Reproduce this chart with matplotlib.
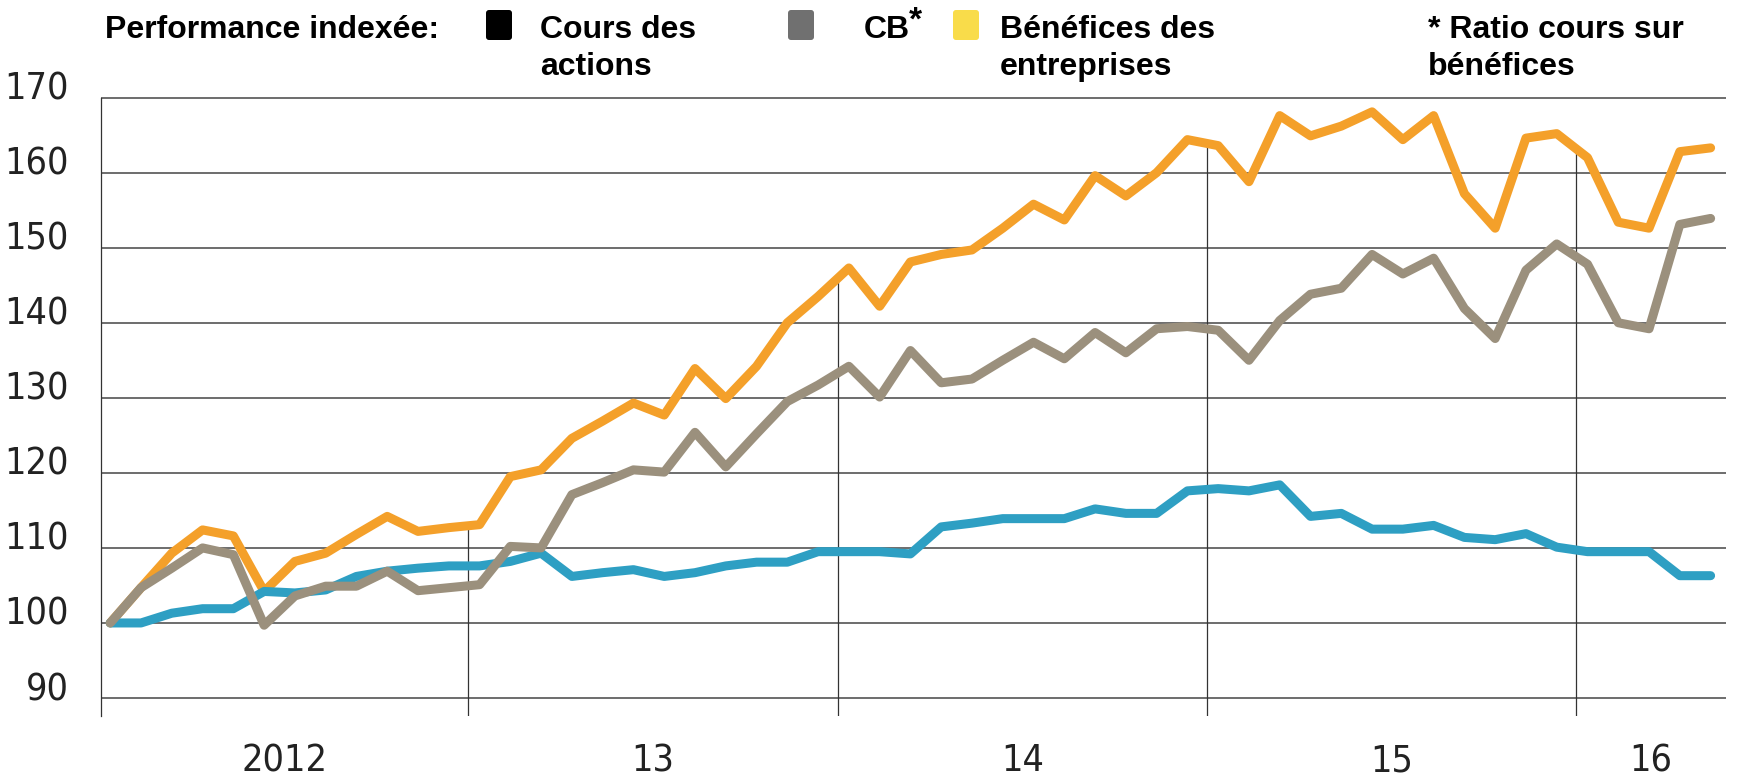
import numpy as np
import matplotlib
matplotlib.use("Agg")
import matplotlib.pyplot as plt
from matplotlib import transforms, font_manager as fm
from matplotlib.patches import FancyBboxPatch

# ---------------- data (monthly, Jan 2012 .. May 2016) ----------------
year_labels = ["2012", "13", "14", "15", "16"]
y_ticks = [90, 100, 110, 120, 130, 140, 150, 160, 170]

cours_actions = [100, 100, 101.3, 101.9, 101.9, 104.2, 104.0, 104.4, 106.2, 106.9,
                 107.3, 107.6, 107.6, 108.2, 109.3, 106.2, 106.7, 107.1, 106.2, 106.7,
                 107.6, 108.1, 108.1, 109.5, 109.5, 109.5, 109.2, 112.8, 113.3, 113.9,
                 113.9, 113.9, 115.2, 114.6, 114.6, 117.6, 117.9, 117.6, 118.4, 114.2,
                 114.6, 112.5, 112.5, 113.0, 111.4, 111.1, 111.9, 110.1, 109.5, 109.5,
                 109.5, 106.3, 106.3]

cb_ratio = [100, 104.7, 107.3, 110.0, 109.1, 99.7, 103.6, 104.9, 104.9, 106.9,
            104.3, 104.7, 105.1, 110.2, 110.0, 117.1, 118.7, 120.4, 120.1, 125.4,
            120.8, 125.2, 129.5, 131.7, 134.2, 130.1, 136.3, 132.0, 132.5, 135.0,
            137.4, 135.2, 138.7, 136.0, 139.2, 139.5, 139.0, 135.0, 140.3, 143.8,
            144.6, 149.1, 146.5, 148.6, 141.9, 137.9, 147.0, 150.5, 147.8, 140.0,
            139.2, 153.1, 153.9]

benefices = [100, 104.7, 109.3, 112.4, 111.6, 104.2, 108.2, 109.3, 111.8, 114.2,
             112.2, 112.7, 113.1, 119.5, 120.4, 124.6, 126.9, 129.3, 127.7, 133.9,
             129.9, 134.2, 140.0, 143.5, 147.3, 142.2, 148.1, 149.1, 149.7, 152.6,
             155.8, 153.7, 159.6, 156.9, 160.0, 164.4, 163.6, 158.8, 167.6, 164.9,
             166.2, 168.1, 164.4, 167.6, 157.2, 152.6, 164.6, 165.2, 162.0, 153.4,
             152.6, 162.8, 163.3]

# ---------------- fonts ----------------
ttf = fm.fontManager.ttflist
names = {f.name for f in ttf}
if "Liberation Sans Narrow" in names:
    cond_font = dict(family="Liberation Sans Narrow")
    tick_size = 31
elif any(f.name == "DejaVu Sans" and f.stretch == "condensed" for f in ttf):
    cond_font = dict(family="DejaVu Sans", stretch="condensed")
    tick_size = 27
else:
    cond_font = dict(family="Roboto", weight="light")
    tick_size = 26
bold_font = dict(family=["Liberation Sans", "DejaVu Sans"], weight="bold")

# ---------------- figure ----------------
W, H = 1739, 776
fig = plt.figure(figsize=(W / 100, H / 100), dpi=100)
ax_top, ax_bot, ax_l, ax_r = 97.6, 716.4, 101, 1726
ax = fig.add_axes([ax_l / W, 1 - ax_bot / H, (ax_r - ax_l) / W, (ax_bot - ax_top) / H])

months = np.arange(len(cours_actions))
x_left, x_right = -0.3, 52.5
y_bot, y_top = 87.55, 170
ax.set_xlim(x_left, x_right)
ax.set_ylim(y_bot, y_top)

grid_c = "#454545"
for v in y_ticks:
    ax.plot([x_left, x_right], [v, v], color=grid_c, lw=1.1, zorder=1, clip_on=False,
            solid_capstyle="butt")

# year separators: from the bottom up to the earnings line
bounds = [12 * k - 0.36 for k in range(1, 5)]
for b in bounds:
    top = np.interp(b, months, benefices)
    ax.plot([b, b], [y_bot, top], color="#333333", lw=0.9, zorder=1)

for s in ["top", "right", "bottom"]:
    ax.spines[s].set_visible(False)
ax.spines["left"].set_color("#333333")
ax.spines["left"].set_linewidth(0.9)

# series
lw = 6.5
ax.plot(months, benefices, color="#F4A02A", lw=lw, zorder=3,
        solid_capstyle="round", solid_joinstyle="round")
ax.plot(months, cours_actions, color="#2E9FC3", lw=lw, zorder=4,
        solid_capstyle="round", solid_joinstyle="round")
ax.plot(months, cb_ratio, color="#9B907D", lw=lw, zorder=5,
        solid_capstyle="round", solid_joinstyle="round")

# y tick labels
ax.set_yticks(y_ticks)
ax.set_yticklabels([str(v) for v in y_ticks], fontsize=tick_size, color="#222222", **cond_font)
ax.tick_params(axis="y", length=0, pad=23)
off_y = transforms.ScaledTranslation(0, -2 / 100, fig.dpi_scale_trans)
for lbl in ax.get_yticklabels():
    lbl.set_verticalalignment("baseline")
    lbl.set_transform(lbl.get_transform() + off_y)

# x (year) labels centred in each year span
edges = [x_left] + bounds + [x_right]
centers = [(edges[i] + edges[i + 1]) / 2 for i in range(len(year_labels))]
ax.set_xticks(centers)
ax.set_xticklabels(year_labels, fontsize=tick_size, color="#222222", **cond_font)
ax.tick_params(axis="x", length=0, pad=39.5)
for lbl in ax.get_xticklabels():
    lbl.set_verticalalignment("baseline")

# ---------------- legend header ----------------
def ftext(x, y, s, size=23, **kw):
    fig.text(x / W, 1 - y / H, s, fontsize=size, color="black", va="baseline",
             ha="left", **bold_font, **kw)

def square(x0, y0, w, h, color):
    p = FancyBboxPatch((x0, H - y0 - h), w, h,
                       boxstyle="round,pad=0,rounding_size=3",
                       transform=transforms.IdentityTransform(),
                       facecolor=color, edgecolor="none")
    fig.patches.append(p)

ftext(105, 38, "Performance indexée:")
square(486, 10, 26, 30, "#000000")
ftext(540, 38, "Cours des")
ftext(540, 75, "actions")
square(788, 10, 26, 30, "#707070")
ftext(864, 38, "CB")
ftext(909, 30, "*", size=24)
square(953, 10, 26, 30, "#F9DC4A")
ftext(1000, 38, "Bénéfices des")
ftext(1000, 75, "entreprises")
ftext(1428, 38, "* Ratio cours sur")
ftext(1428, 75, "bénéfices")

fig.savefig("out.png", dpi=100)
